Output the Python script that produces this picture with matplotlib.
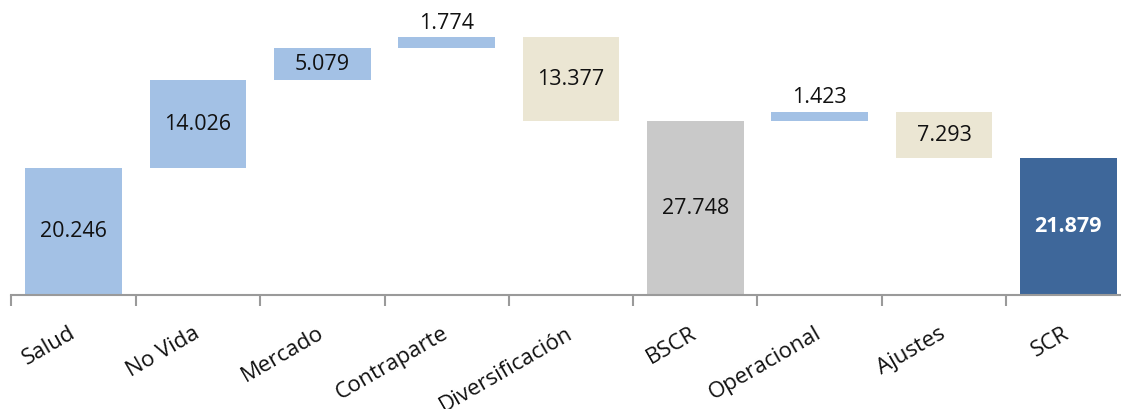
import matplotlib
matplotlib.use("Agg")
import matplotlib.pyplot as plt
from matplotlib.transforms import ScaledTranslation

categories = ["Salud", "No Vida", "Mercado", "Contraparte", "Diversificación",
              "BSCR", "Operacional", "Ajustes", "SCR"]
values = [20.246, 14.026, 5.079, 1.774, -13.377, 27.748, 1.423, -7.293, 21.879]
kinds = ["up", "up", "up", "up", "down", "total", "up", "down", "final"]
labels = ["20.246", "14.026", "5.079", "1.774", "13.377", "27.748", "1.423", "7.293", "21.879"]

COLORS = {"up": "#A3C1E5", "down": "#EBE6D3", "total": "#C9C9C9", "final": "#3E679A"}

plt.rcParams["font.family"] = ["Open Sans", "DejaVu Sans"]

fig = plt.figure(figsize=(11.21, 4.09), dpi=100)
ax = fig.add_axes([11.5 / 1121, 114 / 409, 1119 / 1121, 282 / 409])

# waterfall bottoms/heights from the values
running = 0.0
for i, (v, k, lab) in enumerate(zip(values, kinds, labels)):
    if k in ("total", "final"):
        bottom, height = 0.0, v
        running = v
    elif v >= 0:
        bottom, height = running, v
        running += v
    else:
        bottom, height = running + v, -v
        running += v
    ax.bar(i, height, bottom=bottom, width=0.78, color=COLORS[k], linewidth=0)
    if height < 4:
        ax.text(i, bottom + height + 0.6, lab, ha="center", va="bottom",
                fontsize=15.5, color="#111111")
    else:
        bold = k == "final"
        ax.text(i, bottom + height / 2, lab, ha="center", va="center",
                fontsize=15.5, color="white" if bold else "#111111",
                fontweight="bold" if bold else "normal")

ax.set_xlim(-0.5, len(categories) - 0.5)
ax.set_ylim(0, 45)
for s in ("top", "right", "left"):
    ax.spines[s].set_visible(False)
ax.spines["bottom"].set_color("#9A9A9A")
ax.spines["bottom"].set_linewidth(1.5)
ax.set_yticks([])

# tick marks at category boundaries, labels at centers
ax.set_xticks([i - 0.5 for i in range(len(categories) + 1)])
ax.set_xticklabels([])
ax.tick_params(axis="x", which="major", length=8, width=1.5, color="#9A9A9A", direction="out")
ax.set_xticks(range(len(categories)), minor=True)
ax.set_xticklabels(categories, minor=True, rotation=30, ha="right",
                   fontsize=16, color="#111111")
ax.tick_params(axis="x", which="minor", length=0, pad=20)
shift = ScaledTranslation(5 / 100, 0, fig.dpi_scale_trans)
for t in ax.get_xticklabels(minor=True):
    t.set_transform(t.get_transform() + shift)

fig.savefig("out.png", dpi=100)
